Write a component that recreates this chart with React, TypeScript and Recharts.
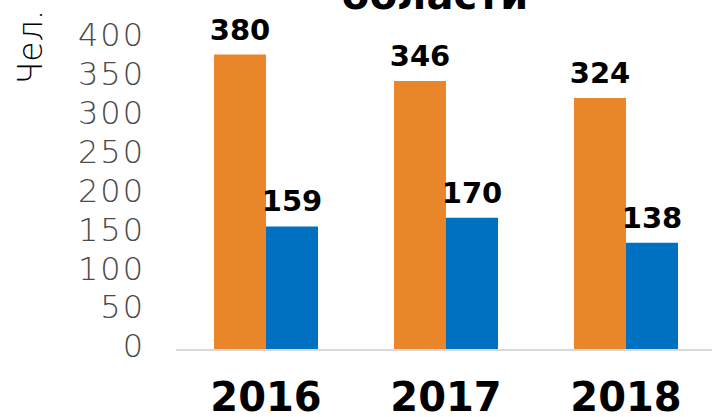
import { BarChart, Bar, XAxis, YAxis, LabelList } from 'recharts';

const years = ['2016', '2017', '2018'];
const orangeValues = [380, 346, 324];
const blueValues = [159, 170, 138];
const yTicks = [0, 50, 100, 150, 200, 250, 300, 350, 400];

const data = years.map((year, i) => ({
  year,
  orange: orangeValues[i],
  blue: blueValues[i],
}));

export default function App() {
  return (
    <div style={{ position: 'absolute', left: 0, top: 0, width: 712, height: 417, overflow: 'hidden', background: '#fff' }}>
      <BarChart
        width={716}
        height={417}
        data={data}
        margin={{ top: 39, right: 0, left: 0, bottom: 0 }}
        barGap={0}
        barCategoryGap={38}
      >
        <text
          x={435}
          y={9}
          textAnchor="middle"
          fontFamily="DejaVu Sans"
          fontWeight="bold"
          fontSize={40}
          fill="#000"
        >
          области
        </text>
        <text
          x={0}
          y={0}
          transform="translate(30,47) rotate(-90)"
          textAnchor="middle"
          dominantBaseline="central"
          fontFamily="DejaVu Sans"
          fontWeight={200}
          fontSize={33}
          fill="#000"
        >
          Чел.
        </text>
        <XAxis
          dataKey="year"
          height={67}
          tickLine={false}
          tickSize={0}
          tickMargin={33}
          axisLine={{ stroke: '#d9d9d9', strokeWidth: 2 }}
          tick={{ fill: '#000', fontFamily: 'DejaVu Sans', fontWeight: 'bold', fontSize: 40 }}
        />
        <YAxis
          width={176}
          domain={[0, 400]}
          ticks={yTicks}
          interval={0}
          axisLine={false}
          tickLine={false}
          tickMargin={25}
          tick={{ fill: '#4a4a4a', fontFamily: 'DejaVu Sans', fontWeight: 200, fontSize: 32, letterSpacing: 2, dy: -4 }}
        />
        <Bar dataKey="orange" fill="#e9862a" isAnimationActive={false}>
          <LabelList
            dataKey="orange"
            position="top"
            offset={15}
            fill="#000"
            fontFamily="DejaVu Sans"
            fontWeight="bold"
            fontSize={29}
          />
        </Bar>
        <Bar dataKey="blue" fill="#0070c0" isAnimationActive={false}>
          <LabelList
            dataKey="blue"
            position="top"
            offset={15}
            fill="#000"
            fontFamily="DejaVu Sans"
            fontWeight="bold"
            fontSize={29}
          />
        </Bar>
      </BarChart>
    </div>
  );
}
